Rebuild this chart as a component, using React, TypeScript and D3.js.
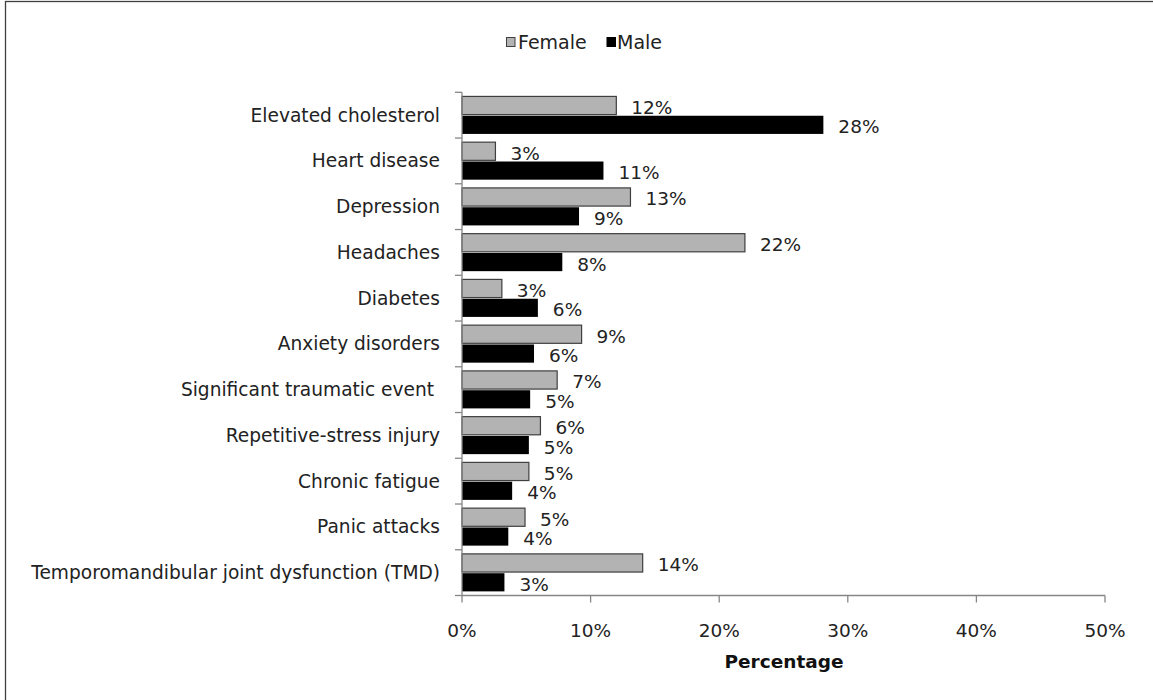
import React from "react";
import * as d3 from "d3";

const categories = [
  "Elevated cholesterol",
  "Heart disease",
  "Depression",
  "Headaches",
  "Diabetes",
  "Anxiety disorders",
  "Significant traumatic event ",
  "Repetitive-stress injury",
  "Chronic fatigue",
  "Panic attacks",
  "Temporomandibular joint dysfunction (TMD)",
];
const femaleValues = [12.0, 2.6, 13.1, 22.0, 3.1, 9.3, 7.4, 6.1, 5.2, 4.9, 14.05];
const maleValues = [28.1, 11.0, 9.1, 7.8, 5.9, 5.6, 5.3, 5.2, 3.9, 3.6, 3.3];
const femaleLabels = ["12%", "3%", "13%", "22%", "3%", "9%", "7%", "6%", "5%", "5%", "14%"];
const maleLabels = ["28%", "11%", "9%", "8%", "6%", "6%", "5%", "5%", "4%", "4%", "3%"];
const xTicks = [0, 10, 20, 30, 40, 50];
const seriesNames = ["Female", "Male"];

const W = 1153;
const H = 700;
const FONT = "'DejaVu Sans', Verdana, sans-serif";
const TEXT = "#222";
const AXIS = "#868686";
const FEMALE_FILL = "#b3b3b3";
const FEMALE_STROKE = "#3f3f3f";
const MALE_FILL = "#000";

export default function App() {
  const x = d3.scaleLinear().domain([0, 50]).range([462, 1105]);
  const y = d3
    .scaleBand<string>()
    .domain(categories)
    .range([92.3, 595.5])
    .paddingInner(0.18)
    .paddingOuter(0.09);
  const sub = d3
    .scaleBand<string>()
    .domain(seriesNames)
    .range([0, y.bandwidth()])
    .paddingInner(0.06);
  const step = y.step();
  const boundaries = d3.range(categories.length + 1).map((i) => 92.3 + i * step);
  const axisY = 595.5;

  return (
    <svg
      width={W}
      height={H}
      style={{ position: "absolute", left: 0, top: 0, background: "#fff" }}
      fontFamily={FONT}
    >
      <rect x={0} y={0} width={W} height={H} fill="#fff" />
      <rect x={5.5} y={1.5} width={W + 10} height={H + 10} fill="none" stroke="#404040" strokeWidth={1.3} />

      {/* Legend */}
      <g>
        <rect x={506.5} y={37.5} width={8.5} height={9} fill={FEMALE_FILL} stroke={FEMALE_STROKE} strokeWidth={1} />
        <text x={518} y={42} dominantBaseline="central" fontSize={19} fill={TEXT}>
          {seriesNames[0]}
        </text>
        <rect x={607} y={37.5} width={8.5} height={9} fill={MALE_FILL} stroke={MALE_FILL} strokeWidth={1} />
        <text x={617} y={42} dominantBaseline="central" fontSize={19} fill={TEXT}>
          {seriesNames[1]}
        </text>
      </g>

      {/* Bars */}
      {categories.map((c, i) => {
        const y0 = y(c)!;
        const fy = y0 + sub("Female")!;
        const my = y0 + sub("Male")!;
        const bh = sub.bandwidth();
        return (
          <g key={c}>
            <rect
              x={x(0)}
              y={fy}
              width={x(femaleValues[i]) - x(0)}
              height={bh}
              fill={FEMALE_FILL}
              stroke={FEMALE_STROKE}
              strokeWidth={1.2}
            />
            <rect x={x(0)} y={my} width={x(maleValues[i]) - x(0)} height={bh} fill={MALE_FILL} />
            <text
              x={x(femaleValues[i]) + 15}
              y={fy + bh / 2 + 2}
              dominantBaseline="central"
              fontSize={18.5}
              fill={TEXT}
            >
              {femaleLabels[i]}
            </text>
            <text
              x={x(maleValues[i]) + 15}
              y={my + bh / 2 + 2}
              dominantBaseline="central"
              fontSize={18.5}
              fill={TEXT}
            >
              {maleLabels[i]}
            </text>
            <text
              x={440}
              y={y0 + y.bandwidth() / 2}
              textAnchor="end"
              dominantBaseline="central"
              fontSize={18.6}
              fill={TEXT}
              style={{ whiteSpace: "pre" }}
            >
              {c}
            </text>
          </g>
        );
      })}

      {/* Y axis */}
      <line x1={x(0)} x2={x(0)} y1={92.3} y2={axisY} stroke={AXIS} strokeWidth={1.3} />
      {boundaries.map((b, i) => (
        <line key={i} x1={x(0) - 7} x2={x(0)} y1={b} y2={b} stroke={AXIS} strokeWidth={1.3} />
      ))}

      {/* X axis */}
      <line x1={x(0)} x2={x(50)} y1={axisY} y2={axisY} stroke={AXIS} strokeWidth={1.3} />
      {xTicks.map((t) => (
        <g key={t}>
          <line x1={x(t)} x2={x(t)} y1={axisY} y2={axisY + 7} stroke={AXIS} strokeWidth={1.3} />
          <text
            x={x(t)}
            y={630}
            textAnchor="middle"
            dominantBaseline="central"
            fontSize={18.5}
            fill={TEXT}
          >
            {t + "%"}
          </text>
        </g>
      ))}
      <text
        x={784}
        y={661}
        textAnchor="middle"
        dominantBaseline="central"
        fontSize={18.5}
        fontWeight="bold"
        fill="#111"
      >
        Percentage
      </text>
    </svg>
  );
}
